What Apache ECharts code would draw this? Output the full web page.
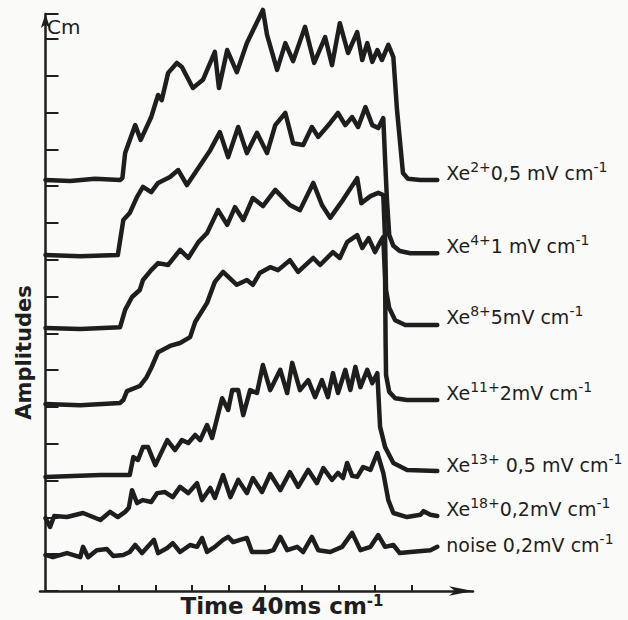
<!DOCTYPE html>
<html lang="en">
<head>
<meta charset="UTF-8">
<title>Xe ion signals</title>
<script src="https://cdn.jsdelivr.net/npm/echarts@6/dist/echarts.min.js"></script>
<style>
html, body { margin: 0; padding: 0; background: #fafaf8; }
#chart { width: 628px; height: 620px; }
</style>
</head>
<body>
<div id="chart"></div>
<script>
// x: time in ms (40 ms per cm), y: height of the trace on the screen in cm
var xe2 = [[0,11.17],[27,11.14],[54,11.2],[81.5,11.17],[84,11.22],[87,11.9],[98,12.66],[104,12.26],[115.5,12.88],[123,13.48],[127,13.34],[134,14.08],[143.5,14.35],[149,14.24],[161,13.67],[172,13.89],[185,14.65],[189.5,13.67],[198.5,14.7],[209,14.1],[220,14.89],[237.5,15.79],[242,15.11],[253,14.16],[262,14.89],[270.5,14.4],[283.5,15.33],[293.5,14.35],[305.5,15.05],[313,14.29],[321.5,15.43],[330.5,14.62],[340.5,15.19],[346,14.43],[351.5,14.89],[357,14.38],[362.5,14.7],[367.5,14.43],[374.5,14.84],[380,14.51],[384,13.07],[390.5,11.36],[396,11.2],[409.5,11.17],[428,11.17]];
var xe4 = [[0,9.13],[38,9.1],[79,9.13],[85,10.08],[92,10.27],[100,10.71],[106.5,10.98],[115.5,10.84],[123,11.09],[136,11.25],[145,11.44],[154.5,11.03],[165.5,11.44],[180,11.98],[190.5,12.47],[199.5,11.79],[210.5,12.61],[220,11.9],[231,12.45],[242,11.9],[251,12.66],[262,12.99],[270.5,12.17],[281.5,12.12],[291,12.61],[298,12.34],[311,12.72],[319.5,12.99],[327.5,12.66],[335,12.88],[341.5,12.61],[349.5,13.15],[357,12.66],[363.5,12.58],[369,12.85],[371,11.71],[373,10.63],[375.5,9.67],[380,9.38],[387,9.24],[398.5,9.18],[428,9.18]];
var xe8 = [[0,7.15],[38,7.12],[81.5,7.17],[87,7.64],[94.5,7.99],[103,8.18],[106.5,8.45],[115.5,8.72],[123,8.91],[134,8.86],[147,9.27],[156,9.05],[167,9.48],[176.5,9.73],[188.5,10.35],[198.5,9.95],[207,10.43],[216,10.08],[226.5,10.68],[237.5,10.46],[251,10.9],[267,10.49],[278,10.35],[292.5,11.09],[302,10.49],[311,10.14],[325,10.63],[340.5,11.22],[345,10.54],[355,10.73],[363.5,10.82],[369,10.76],[371,9.54],[372,8.18],[375.5,7.69],[382,7.36],[393,7.23],[428,7.23]];
var xe11 = [[0,5.08],[38,5.05],[81.5,5.11],[85,5.19],[89,5.43],[103,5.57],[110,5.79],[115.5,6.06],[123,6.49],[136,6.66],[147,6.74],[158,6.9],[163.5,7.31],[176.5,7.83],[185,8.4],[194,8.67],[209,8.32],[220,8.45],[226.5,8.32],[234,8.64],[245.5,8.8],[254,8.72],[267,8.99],[276,8.67],[292.5,9.05],[300,8.86],[314,9.21],[321.5,9.05],[329.5,9.48],[340.5,9.67],[346,9.32],[353,9.59],[360,9.21],[365.5,9.48],[369,9.62],[371,8.45],[371.5,6.82],[372,5.87],[375.5,5.41],[382,5.24],[395,5.19],[428,5.19]];
var xe13 = [[0,3.1],[60,3.15],[92,3.15],[96,3.64],[101,3.56],[106.5,3.91],[112,3.91],[120,3.42],[133,4.1],[141.5,3.83],[149,4.1],[156,4.02],[163.5,4.24],[169,4.1],[176.5,4.51],[182,4.16],[193,5.24],[199.5,4.92],[204,5.46],[210.5,5.46],[216,4.78],[223.5,5.46],[231,5.38],[237.5,6.14],[245.5,5.46],[256.5,6.01],[264,5.38],[269.5,6.2],[278,5.46],[287,5.73],[294.5,5.27],[302,5.73],[308.5,5.27],[314,5.92],[319.5,5.38],[327.5,6.01],[333,5.46],[338.5,6.09],[344,5.54],[351.5,6.01],[357,5.65],[362.5,5.92],[365.5,4.46],[371,3.91],[380,3.48],[395,3.29],[428,3.26]];
var xe18 = [[0,1.98],[5,1.74],[9.5,2.04],[23.5,2.01],[41,2.12],[60,1.93],[70.5,2.15],[79,2.01],[87,2.15],[91,2.26],[94.5,2.74],[100,2.39],[106.5,2.47],[115.5,2.42],[122,2.66],[130.5,2.69],[139,2.55],[147,2.83],[156,2.66],[165.5,2.93],[171,2.47],[180,2.8],[185,2.53],[194,3.15],[202,2.55],[210.5,3.02],[220,2.66],[226.5,3.07],[236.5,2.69],[245.5,3.18],[256.5,2.74],[267,3.23],[276,2.83],[287,3.29],[296.5,2.93],[303.5,3.34],[313,3.02],[319.5,3.21],[325,3.07],[329.5,3.48],[335,3.13],[340.5,3.1],[347,3.37],[355,3.29],[362.5,3.75],[369,3.21],[374.5,2.47],[380,2.12],[395,2.01],[409.5,2.07],[413,2.17],[420.5,2.07],[428,2.04]];
var noise = [[0,0.98],[8,0.92],[23.5,1.03],[38,0.92],[41,1.2],[46.5,0.92],[56,1.11],[67,1.14],[74,0.95],[85,0.98],[92,1.06],[98,1.25],[105.5,1.03],[118.5,1.39],[123,1.03],[133,1.17],[139,1.3],[147,1.06],[158,1.25],[165.5,1.2],[171,1.44],[176.5,1.06],[185,1.2],[194,1.39],[199.5,1.47],[205,1.33],[212.5,1.39],[220,1.44],[225.5,1.06],[242,1.06],[249,1.11],[256.5,1.47],[264,1.11],[275,1.2],[281.5,1.06],[291,1.47],[298,1.11],[311,1.06],[324,1.2],[335,1.58],[344,1.11],[355,1.2],[363.5,1.52],[371,1.2],[380,1.25],[387,1.03],[398.5,1.06],[420.5,1.11],[428,1.2]];

var traceNames = ['Xe2+', 'Xe4+', 'Xe8+', 'Xe11+', 'Xe13+', 'Xe18+', 'noise'];
var traceLabels = [
  'Xe{s|2+}0,5 mV cm{s|-1}',
  'Xe{s|4+}1 mV cm{s|-1}',
  'Xe{s|8+}5mV cm{s|-1}',
  'Xe{s|11+}2mV cm{s|-1}',
  'Xe{s|13+} 0,5 mV cm{s|-1}',
  'Xe{s|18+}0,2mV cm{s|-1}',
  'noise 0,2mV cm{s|-1}'
];
var timeTicks = [40, 80, 120, 160, 200, 240, 280, 320, 360, 400];

var ink = '#1e1e1e';
var font = 'DejaVu Sans';
// small vertical nudge of each right-hand label against its trace end
var labelShift = [-7, -7, -8, -7, -6, -7, -2];

var traces = [xe2, xe4, xe8, xe11, xe13, xe18, noise];

var chart = echarts.init(document.getElementById('chart'), null, {renderer: 'svg'});

var series = traces.map(function (d, i) {
  return {
    name: traceNames[i],
    type: 'line',
    data: d,
    showSymbol: false,
    clip: false,
    silent: true,
    lineStyle: {color: ink, width: 4.5, cap: 'round', join: 'round'},
    endLabel: {
      show: true,
      formatter: traceLabels[i],
      distance: 9,
      offset: [0, labelShift[i]],
      color: ink,
      fontFamily: font,
      fontSize: 19,
      lineHeight: 26,
      rich: {
        s: {fontSize: 14, fontFamily: font, color: ink, verticalAlign: 'top', lineHeight: 15}
      }
    }
  };
});

chart.setOption({
  animation: false,
  backgroundColor: '#fafaf8',
  grid: {left: 40, right: 155, top: 14, bottom: 29, containLabel: false, outerBoundsMode: 'none'},
  xAxis: {
    type: 'value',
    min: -6,
    max: 467,
    name: 'Time 40ms cm{s|-1}',
    nameLocation: 'middle',
    nameGap: 2,
    nameTextStyle: {
      color: ink, fontFamily: font, fontWeight: 'bold', fontSize: 23,
      lineHeight: 26, verticalAlign: 'top', padding: [0, 0, 0, 51],
      rich: {s: {fontSize: 15, fontFamily: font, fontWeight: 'bold', color: ink, verticalAlign: 'top', lineHeight: 15}}
    },
    axisLine: {lineStyle: {color: ink, width: 2.5}, symbol: ['none', 'arrow'], symbolSize: [7, 24]},
    axisTick: {inside: true, length: 6, interval: 0, lineStyle: {color: ink, width: 2}, customValues: timeTicks},
    axisLabel: {show: false},
    splitLine: {show: false}
  },
  yAxis: {
    type: 'value',
    min: 0,
    max: 15.68,
    interval: 1,
    name: 'Amplitudes',
    nameLocation: 'middle',
    nameGap: 6,
    nameRotate: 90,
    nameTextStyle: {color: ink, fontFamily: font, fontWeight: 'bold', fontSize: 21, padding: [0, 100, 0, 0]},
    axisLine: {lineStyle: {color: ink, width: 2.5}, symbol: ['none', 'arrow'], symbolSize: [7, 14]},
    axisTick: {inside: true, length: 13, interval: 0, lineStyle: {color: ink, width: 2}},
    axisLabel: {show: false, interval: 0},
    splitLine: {show: false}
  },
  // unit mark next to the arrow head of the amplitude axis
  graphic: [{
    type: 'text',
    left: 47,
    top: 17,
    style: {text: 'Cm', fill: ink, font: '20px "DejaVu Sans"'}
  }],
  series: series
});
</script>
</body>
</html>
